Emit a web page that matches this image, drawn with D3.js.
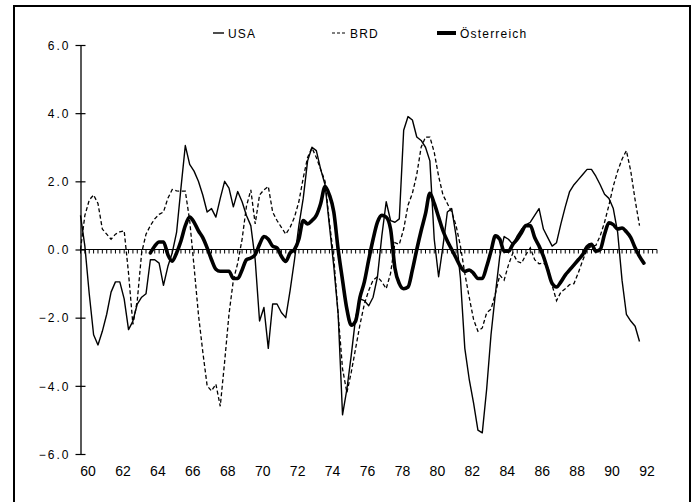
<!DOCTYPE html>
<html>
<head>
<meta charset="utf-8">
<script src="https://cdn.jsdelivr.net/npm/d3@7"></script>
<style>
  body { margin: 0; background: #fff; }
  svg { display: block; }
  text { font-family: "Liberation Sans", Arial, sans-serif; fill: #000; }
</style>
</head>
<body>
<div id="chart"></div>
<script>
// quarterly values, first quarter of the start year
const usaStart = 60;
const usa = [1.0,0.1,-1.3,-2.5,-2.8,-2.4,-1.9,-1.25,-0.95,-0.95,
  -1.45,-2.35,-2.1,-1.6,-1.4,-1.3,-0.3,-0.3,-0.4,-1.05,
  -0.5,-0.1,0.5,1.8,3.05,2.5,2.3,2.0,1.6,1.1,
  1.2,0.95,1.5,2.0,1.8,1.25,1.7,1.4,1.0,0.7,
  -0.3,-2.1,-1.7,-2.9,-1.6,-1.6,-1.85,-2.0,-1.2,-0.3,
  0.7,1.5,2.6,3.0,2.9,2.35,1.9,0.7,-0.5,-1.9,
  -4.85,-4.1,-3.1,-2.0,-1.45,-1.5,-1.65,-1.4,-0.8,0.4,
  1.4,0.85,0.8,0.9,3.5,3.9,3.8,3.3,3.2,3.0,
  2.6,0.3,-0.8,0.1,1.1,1.2,0.4,-0.85,-2.9,-3.8,
  -4.5,-5.3,-5.38,-4.1,-2.5,-1.3,-0.2,0.38,0.3,0.15,
  0.4,0.6,0.72,0.8,1.0,1.2,0.6,0.35,0.1,0.2,
  0.75,1.25,1.7,1.9,2.05,2.2,2.35,2.35,2.15,1.9,
  1.62,1.5,1.2,0.5,-0.9,-1.9,-2.1,-2.25,-2.7];

const brdStart = 60;
const brd = [0.0,1.0,1.45,1.6,1.35,0.6,0.45,0.3,0.45,0.52,
  0.55,-0.7,-2.2,-1.5,-0.1,0.45,0.7,0.9,1.03,1.1,
  1.5,1.76,1.72,1.71,1.71,0.85,-0.5,-1.9,-3.0,-4.0,
  -4.15,-3.95,-4.6,-3.3,-1.9,-0.9,-0.4,0.3,1.27,1.75,
  0.75,1.6,1.75,1.85,1.1,0.85,0.65,0.45,0.65,0.95,
  1.4,2.1,2.7,2.98,2.7,2.35,2.0,0.8,-0.25,-1.9,
  -3.5,-4.2,-3.6,-2.9,-2.2,-1.6,-1.2,-0.9,-0.8,-0.95,
  -1.15,-0.7,0.2,0.15,0.6,1.3,1.65,2.2,3.0,3.3,
  3.3,2.85,2.15,1.6,1.35,1.1,0.7,0.1,-0.7,-1.4,
  -2.05,-2.4,-2.3,-1.86,-1.75,-1.3,-0.75,-0.9,-0.45,-0.1,
  -0.35,-0.4,-0.15,0.05,-0.3,-0.42,-0.4,-0.5,-1.05,-1.5,
  -1.25,-1.15,-1.03,-1.0,-0.68,-0.32,0.0,0.1,0.12,0.4,
  0.8,1.3,1.86,2.3,2.65,2.9,2.3,1.45,0.7];

const atStart = 64;
const oesterreich = [-0.1,0.1,0.22,0.22,-0.15,-0.34,-0.1,0.25,0.7,0.95,
  0.8,0.55,0.35,0.05,-0.3,-0.58,-0.64,-0.64,-0.64,-0.85,
  -0.85,-0.6,-0.3,-0.25,-0.15,0.15,0.38,0.3,0.1,0.05,
  -0.2,-0.35,-0.1,0.0,0.3,0.85,0.75,0.85,1.0,1.35,
  1.85,1.6,1.1,0.0,-0.9,-1.75,-2.22,-2.1,-1.4,-0.95,
  -0.3,0.3,0.8,1.0,0.95,0.6,-0.55,-1.0,-1.15,-1.1,
  -0.6,0.0,0.55,1.05,1.65,1.35,0.95,0.55,0.25,0.0,
  -0.25,-0.5,-0.64,-0.6,-0.7,-0.85,-0.85,-0.5,-0.05,0.4,
  0.3,-0.05,-0.05,0.15,0.3,0.5,0.7,0.7,0.35,0.1,
  -0.2,-0.6,-1.0,-1.1,-0.95,-0.75,-0.6,-0.45,-0.3,-0.15,
  0.08,0.15,-0.05,0.0,0.45,0.78,0.73,0.6,0.63,0.52,
  0.35,0.05,-0.2,-0.4];

const xTickYears = [60,62,64,66,68,70,72,74,76,78,80,82,84,86,88,90,92];
const yTickValues = [6,4,2,0,-2,-4,-6];
const legendNames = ["USA", "BRD", "Österreich"];

const W = 692, H = 502;

const svg = d3.select("#chart").append("svg")
  .attr("width", W)
  .attr("height", H);

const x = d3.scaleLinear().domain([60, 92]).range([80.5, 639.5]);
const y = d3.scaleLinear().domain([-6, 6]).range([454, 45]);

// y axis
const yAxis = svg.append("g").attr("transform", "translate(" + x(60) + ",0)")
  .call(d3.axisLeft(y).tickValues(yTickValues).tickSize(5).tickSizeOuter(0)
    .tickFormat(d => d3.format(".1f")(d).replace("-", "\u2212")));
yAxis.select(".domain").attr("stroke-width", 1.3);
yAxis.selectAll(".tick line").attr("x2", 5).attr("x1", -5).attr("stroke-width", 1.2);
yAxis.selectAll(".tick text")
  .attr("x", -10)
  .attr("dy", "0.35em")
  .style("font-size", "12px")
  .style("letter-spacing", "2px")
  .style("font-family", "Liberation Sans, Arial, sans-serif");

// zero line with quarterly hatching
svg.append("line")
  .attr("x1", x(60)).attr("x2", x(93))
  .attr("y1", y(0)).attr("y2", y(0))
  .attr("stroke", "#000").attr("stroke-width", 1.2);
svg.append("g").selectAll("line")
  .data(d3.range(60, 93.01, 0.25))
  .join("line")
  .attr("x1", d => x(d)).attr("x2", d => x(d))
  .attr("y1", y(0)).attr("y2", y(0) + 4)
  .attr("stroke", "#000").attr("stroke-width", 1);

// x labels (no axis line, labels only)
const xAxis = svg.append("g").attr("transform", "translate(0,466)")
  .call(d3.axisBottom(x).tickValues(xTickYears).tickSize(0).tickFormat(d3.format("d")));
xAxis.select(".domain").remove();
xAxis.selectAll(".tick").attr("transform", d => "translate(" + (x(d) + 7.5) + ",0)");
xAxis.selectAll(".tick text")
  .attr("y", 0)
  .attr("dy", "0.71em")
  .style("font-size", "14px")
  .style("font-family", "Liberation Sans, Arial, sans-serif");

function series(vals, start) {
  return vals.map((v, i) => ({ t: start + i / 4, v: v }));
}

const line = d3.line().x(d => x(d.t)).y(d => y(d.v));

svg.append("path")
  .datum(series(usa, usaStart))
  .attr("d", line)
  .attr("fill", "none").attr("stroke", "#000")
  .attr("stroke-width", 1.4).attr("stroke-linejoin", "round");

svg.append("path")
  .datum(series(brd, brdStart))
  .attr("d", line)
  .attr("fill", "none").attr("stroke", "#000")
  .attr("stroke-width", 1.3).attr("stroke-dasharray", "4,2.5");

svg.append("path")
  .datum(series(oesterreich, atStart))
  .attr("d", line.curve(d3.curveMonotoneX))
  .attr("fill", "none").attr("stroke", "#000")
  .attr("stroke-width", 3.6).attr("stroke-linejoin", "round").attr("stroke-linecap", "round");

// legend
const legend = svg.append("g");
const legendItems = [
  { name: legendNames[0], x1: 213, x2: 224, tx: 228, w: 1.4, dash: null },
  { name: legendNames[1], x1: 332, x2: 346, tx: 350, w: 1.2, dash: "3,2" },
  { name: legendNames[2], x1: 437, x2: 456, tx: 460, w: 4, dash: null }
];
legendItems.forEach(it => {
  legend.append("line")
    .attr("x1", it.x1).attr("x2", it.x2)
    .attr("y1", 33).attr("y2", 33)
    .attr("stroke", "#000").attr("stroke-width", it.w)
    .attr("stroke-dasharray", it.dash);
  legend.append("text")
    .attr("x", it.tx).attr("y", 37.5)
    .style("font-size", "12px")
    .style("letter-spacing", "1.2px")
    .text(it.name);
});

// outer frame, open at the bottom where the page is cut
svg.append("path")
  .attr("d", "M14,502 V6 H690 V502")
  .attr("fill", "none")
  .attr("stroke", "#000")
  .attr("stroke-width", 2);
</script>
</body>
</html>
